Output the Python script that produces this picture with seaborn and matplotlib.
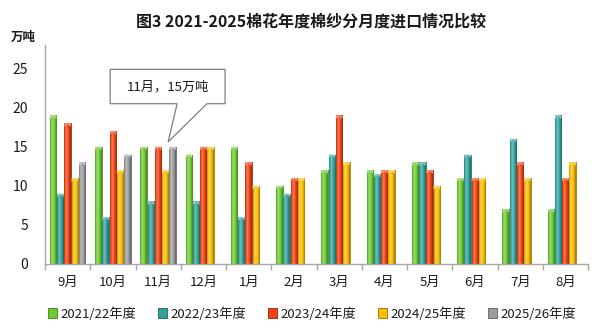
import numpy as np
import pandas as pd
import matplotlib
matplotlib.use("Agg")
import matplotlib.pyplot as plt
from matplotlib.colors import to_rgb
from matplotlib.patches import Polygon, Rectangle
import seaborn as sns

months = ["9月", "10月", "11月", "12月", "1月", "2月", "3月", "4月", "5月", "6月", "7月", "8月"]
seasons = ["2021/22年度", "2022/23年度", "2023/24年度", "2024/25年度", "2025/26年度"]
s2021 = [19, 15, 15, 14, 15, 10, 12, 12, 13, 11, 7, 7]
s2022 = [9, 6, 8, 8, 6, 9, 14, 11.5, 13, 14, 16, 19]
s2023 = [18, 17, 15, 15, 13, 11, 19, 12, 12, 11, 13, 11]
s2024 = [11, 12, 12, 15, 10, 11, 13, 12, 10, 11, 11, 13]
s2025 = [13, 14, 15, np.nan, np.nan, np.nan, np.nan, np.nan, np.nan, np.nan, np.nan, np.nan]
colors = ["#6CCB2E", "#2FA39B", "#F2400F", "#FBBE00", "#9C9C9C"]

callout_month = "11月"
callout_value = 15

series = [s2021, s2022, s2023, s2024, s2025]
rows = []
for name, vals in zip(seasons, series):
    for m, v in zip(months, vals):
        rows.append({"月份": m, "年度": name, "进口量": v})
df = pd.DataFrame(rows)

sns.set_theme(style="white")
plt.rcParams["font.family"] = ["Noto Sans CJK SC", "DejaVu Sans"]
plt.rcParams["axes.unicode_minus"] = False

fig = plt.figure(figsize=(6.0, 3.27), dpi=100)
ax = fig.add_axes([0.075, 0.193, 0.905, 0.669])

sns.barplot(data=df, x="月份", y="进口量", hue="年度", order=months,
            hue_order=seasons, palette=colors, width=0.8, gap=0.1,
            ax=ax, legend=False, errorbar=None, saturation=1)


def shade(rgb, f):
    rgb = np.array(rgb)
    if f >= 0:
        return rgb + (1 - rgb) * f
    return rgb * (1 + f)


# glossy horizontal gradient on every bar
profile_x = np.linspace(0, 1, 40)
profile = np.interp(profile_x, [0, 0.12, 0.35, 0.6, 0.88, 1.0],
                    [-0.35, 0.05, 0.35, 0.05, -0.2, -0.45])
for patch in list(ax.patches):
    h = patch.get_height()
    if not np.isfinite(h) or h <= 0:
        continue
    base = to_rgb(patch.get_facecolor())
    x0, w = patch.get_x(), patch.get_width()
    img = np.array([[shade(base, f) for f in profile]])
    im = ax.imshow(img, extent=(x0, x0 + w, 0, h), aspect="auto",
                   interpolation="bicubic", zorder=patch.get_zorder() + 0.1)
    im.set_clip_path(patch)
    patch.set_edgecolor(shade(base, -0.45))
    patch.set_linewidth(0.5)
    # small bevelled cap on top of the bar
    cap = Polygon([(x0, h - 0.45), (x0 + w * 0.5, h - 0.1), (x0 + w, h - 0.45),
                   (x0 + w, h), (x0, h)], closed=True,
                  facecolor=shade(base, 0.45), edgecolor="none",
                  zorder=patch.get_zorder() + 0.2)
    ax.add_patch(cap)

ax.set_xlim(-0.5, len(months) - 0.5)
ax.set_ylim(0, 28)
ax.set_yticks([0, 5, 10, 15, 20, 25])
ax.set_xlabel("")
ax.set_ylabel("")

for side in ["top", "right"]:
    ax.spines[side].set_visible(False)
for side in ["left", "bottom"]:
    ax.spines[side].set_color("#A6A6A6")
    ax.spines[side].set_linewidth(1.0)

ax.set_xticks(np.arange(len(months)))
ax.set_xticklabels(months)
ax.set_xticks(np.arange(len(months) + 1) - 0.5, minor=True)
ax.tick_params(axis="x", which="major", length=0, pad=9, labelsize=9.5, colors="#1a1a1a")
ax.tick_params(axis="x", which="minor", length=4, width=1.0, color="#A6A6A6", direction="out")
ax.tick_params(axis="y", length=4, width=1.0, color="#A6A6A6", direction="out",
               labelsize=10, colors="#1a1a1a", pad=8)
ax.tick_params(axis="y", colors="#A6A6A6", labelcolor="#1a1a1a")
ax.tick_params(axis="x", which="minor", bottom=True)

# callout pointing at the latest season's bar for 11月
mi = months.index(callout_month)
bar_w = 0.8 / len(seasons)
tip_x = mi - 0.4 + bar_w * 4.5 - 0.1
tip_y = callout_value + 0.6
bx0, bx1, by0, by1 = 0.94, 3.48, 20.5, 24.9
callout = Polygon([(bx0, by0), (bx0, by1), (bx1, by1), (bx1, by0),
                   (3.08, by0), (tip_x, tip_y), (2.42, by0)], closed=True,
                  facecolor="white", edgecolor="#7F7F7F", linewidth=0.9,
                  zorder=10, clip_on=False)
ax.add_patch(callout)
ax.text((bx0 + bx1) / 2, (by0 + by1) / 2, f"{callout_month}，{callout_value}万吨",
        ha="center", va="center", fontsize=9.5, color="#1a1a1a", zorder=11)

fig.text(0.518, 0.935, "图3 2021-2025棉花年度棉纱分月度进口情况比较",
         ha="center", va="center", fontsize=11.5, fontweight="bold", color="#1a1a1a")
fig.text(0.018, 0.885, "万吨", ha="left", va="center", fontsize=9,
         fontweight="bold", color="#1a1a1a")

handles = [Rectangle((0, 0), 1, 1, facecolor=c, edgecolor=shade(to_rgb(c), -0.4),
                     linewidth=0.6) for c in colors]
fig.legend(handles, seasons, loc="center", bbox_to_anchor=(0.52, 0.04), ncol=5,
           frameon=False, fontsize=9.5, handlelength=0.7, handleheight=0.7,
           handletextpad=0.3, columnspacing=1.6, labelcolor="#1a1a1a")

fig.savefig("out.png", dpi=100)
